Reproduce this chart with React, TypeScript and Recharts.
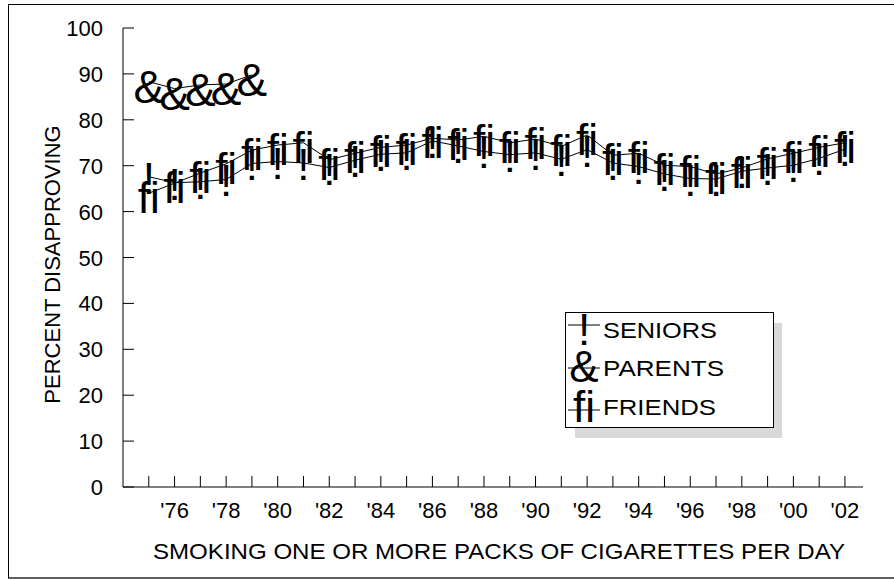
import { Label, Legend, Line, LineChart, XAxis, YAxis } from "recharts";

const FONT = "'Liberation Sans', Arial, sans-serif";

const years = [
  1975, 1976, 1977, 1978, 1979, 1980, 1981, 1982, 1983, 1984, 1985, 1986, 1987, 1988,
  1989, 1990, 1991, 1992, 1993, 1994, 1995, 1996, 1997, 1998, 1999, 2000, 2001, 2002
];

const seniors = [
  67.6, 66.3, 66.5, 67.0, 70.5, 70.9, 70.6, 69.6, 71.2, 72.5, 72.8, 75.4, 74.3, 73.1,
  72.4, 72.8, 71.4, 73.5, 70.6, 69.8, 68.2, 67.2, 67.1, 68.8, 69.5, 70.1, 71.6, 73.6
];

// parents question only asked 1975-1979
const parents = [88.3, 86.8, 87.6, 87.8, 89.8];

const friends = [
  64.0, 66.2, 68.4, 70.4, 73.4, 74.5, 75.0, 71.3, 72.7, 74.0, 74.5, 76.0, 75.6, 76.4,
  75.0, 75.8, 74.2, 76.7, 72.3, 72.7, 70.1, 69.8, 68.2, 69.5, 71.5, 72.7, 74.0, 75.0
];

const yTicks = [0, 10, 20, 30, 40, 50, 60, 70, 80, 90, 100];

const legendItems = [
  { name: "SENIORS", glyph: "!", width: 114 },
  { name: "PARENTS", glyph: "&", width: 121 },
  { name: "FRIENDS", glyph: "fi", width: 113 }
];

const data = years.map((year, i) => ({
  year,
  seniors: seniors[i],
  parents: i < parents.length ? parents[i] : null,
  friends: friends[i]
}));

function XTick(props: any) {
  const { x, y, payload } = props;
  const yr = payload.value as number;
  return (
    <g>
      <line x1={x} x2={x} y1={y} y2={y - 11} stroke="#000" />
      {yr % 2 === 0 && (
        <text x={x} y={y + 31} textAnchor="middle" fontSize={22} fontFamily={FONT} fill="#000">
          {"'" + String(yr).slice(2)}
        </text>
      )}
    </g>
  );
}

function YTick(props: any) {
  const { x, y, payload } = props;
  return (
    <g>
      <line x1={x} x2={x + 11} y1={y} y2={y} stroke="#000" />
      <text x={x - 20} y={y + 8} textAnchor="end" fontSize={22} fontFamily={FONT} fill="#000">
        {payload.value}
      </text>
    </g>
  );
}

function glyphDot(glyph: string, dy: number, size: number, prefix: string) {
  return (props: any) => {
    const { cx, cy, index } = props;
    if (cx == null || cy == null || Number.isNaN(cy)) return <g key={`${prefix}-${index}`} />;
    return (
      <text
        key={`${prefix}-${index}`}
        x={cx}
        y={cy + dy}
        textAnchor="middle"
        fontSize={size}
        fontFamily={FONT}
        fill="#000"
      >
        {glyph}
      </text>
    );
  };
}

function XTitle(props: any) {
  const vb = props.viewBox || { x: 123, y: 487, width: 740, height: 92 };
  return (
    <text
      x={vb.x + vb.width / 2 + 6}
      y={vb.y + 72}
      textAnchor="middle"
      fontSize={22}
      fontFamily={FONT}
      fill="#000"
      textLength={692}
      lengthAdjust="spacingAndGlyphs"
    >
      SMOKING ONE OR MORE PACKS OF CIGARETTES PER DAY
    </text>
  );
}

function YTitle(props: any) {
  const vb = props.viewBox || { x: 0, y: 28, width: 123, height: 459 };
  const cx = 60;
  const cy = vb.y + vb.height / 2 + 7;
  return (
    <text
      x={cx}
      y={cy}
      transform={`rotate(-90, ${cx}, ${cy})`}
      textAnchor="middle"
      fontSize={22}
      fontFamily={FONT}
      fill="#000"
    >
      PERCENT DISAPPROVING
    </text>
  );
}

function LegendBox() {
  const rowY = [27, 70, 112];
  const textY = [40, 78, 117];
  const glyphDy = [20, 14, 12];
  return (
    <svg width={240} height={150} style={{ display: "block", overflow: "visible" }}>
      <rect x={15} y={25} width={207} height={115} fill="#d9d9d9" />
      <rect x={5.5} y={14.5} width={208} height={115} fill="#fff" stroke="#000" />
      {legendItems.map((item, i) => (
        <g key={item.name}>
          <line x1={8} x2={40} y1={rowY[i]} y2={rowY[i]} stroke="#000" />
          <text x={24} y={rowY[i] + glyphDy[i]} textAnchor="middle" fontSize={44} fontFamily={FONT} fill="#000">
            {item.glyph}
          </text>
          <text
            x={43}
            y={textY[i]}
            fontSize={22}
            fontFamily={FONT}
            fill="#000"
            textLength={item.width}
            lengthAdjust="spacingAndGlyphs"
          >
            {item.name}
          </text>
        </g>
      ))}
    </svg>
  );
}

export default function App() {
  return (
    <div style={{ position: "absolute", left: 0, top: 0, width: 894, height: 579, background: "#fff" }}>
      <div
        style={{
          position: "absolute",
          left: 8,
          top: 4,
          width: 886,
          height: 572,
          borderLeft: "1px solid #000",
          borderTop: "1px solid #000",
          borderBottom: "2px solid #606060",
          boxSizing: "content-box"
        }}
      />
      <div style={{ position: "absolute", left: 0, top: 0 }}>
        <LineChart width={894} height={579} data={data} margin={{ top: 28, right: 31, bottom: 0, left: 0 }}>
          <XAxis
            dataKey="year"
            type="number"
            domain={[1974, 2002.7]}
            ticks={years}
            interval={0}
            tickSize={0}
            tickMargin={0}
            tickLine={false}
            tick={<XTick />}
            height={92}
            axisLine={{ stroke: "#000" }}
          >
            <Label content={<XTitle />} />
          </XAxis>
          <YAxis
            type="number"
            domain={[0, 100]}
            ticks={yTicks}
            interval={0}
            width={123}
            tickSize={0}
            tickMargin={0}
            tickLine={false}
            tick={<YTick />}
            axisLine={{ stroke: "#000" }}
          >
            <Label content={<YTitle />} />
          </YAxis>
          <Legend
            layout="vertical"
            align="center"
            verticalAlign="middle"
            wrapperStyle={{ left: 560, top: 298, width: 240, height: 150 }}
            content={() => <LegendBox />}
          />
          <Line
            dataKey="seniors"
            name="SENIORS"
            stroke="#000"
            strokeWidth={1}
            type="linear"
            dot={glyphDot("!", 17, 44, "s")}
            activeDot={false}
            isAnimationActive={false}
          />
          <Line
            dataKey="parents"
            name="PARENTS"
            stroke="#000"
            strokeWidth={1}
            type="linear"
            dot={glyphDot("&", 21, 46, "p")}
            activeDot={false}
            isAnimationActive={false}
          />
          <Line
            dataKey="friends"
            name="FRIENDS"
            stroke="#000"
            strokeWidth={1}
            type="linear"
            dot={glyphDot("fi", 20, 44, "f")}
            activeDot={false}
            isAnimationActive={false}
          />
        </LineChart>
      </div>
    </div>
  );
}
